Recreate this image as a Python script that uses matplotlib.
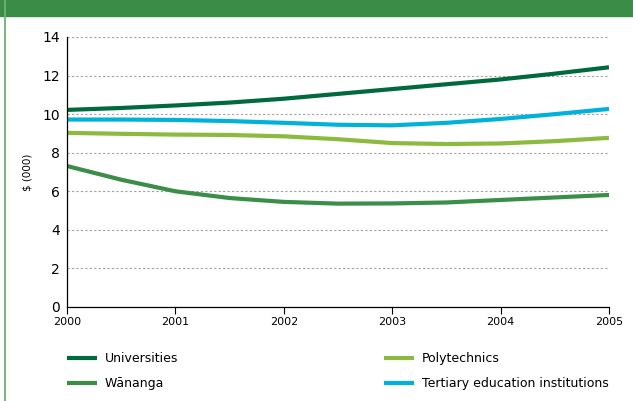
import matplotlib
matplotlib.use('Agg')
import matplotlib.pyplot as plt
from matplotlib.lines import Line2D
from matplotlib.patches import Rectangle

years = [2000, 2000.5, 2001, 2001.5, 2002, 2002.5, 2003, 2003.5, 2004, 2004.5, 2005]
universities = [10.22, 10.32, 10.45, 10.6, 10.8, 11.05, 11.3, 11.55, 11.8, 12.1, 12.43]
tertiary = [9.72, 9.72, 9.7, 9.64, 9.55, 9.45, 9.42, 9.55, 9.75, 10.0, 10.27]
polytechnics = [9.03, 8.98, 8.94, 8.92, 8.85, 8.7, 8.5, 8.45, 8.48, 8.6, 8.77]
wananga = [7.31, 6.6, 6.0, 5.65, 5.45, 5.36, 5.37, 5.42, 5.55, 5.68, 5.81]

xticks = [2000, 2001, 2002, 2003, 2004, 2005]
yticks = [0, 2, 4, 6, 8, 10, 12, 14]

c_uni = '#006a3e'
c_wan = '#3b8e48'
c_poly = '#8cba3f'
c_ter = '#00b2db'

W, H = 633, 401
fig = plt.figure(figsize=(W / 100, H / 100), dpi=100)

# header bar and left border
fig.patches.append(Rectangle((0, 1 - 16 / H), 1, 16 / H, transform=fig.transFigure,
                             color='#3a8c47', zorder=0))
fig.add_artist(Line2D([5 / W, 5 / W], [0, 1], transform=fig.transFigure,
                      color='#6db36f', lw=1.3))

ax = fig.add_axes([67 / W, 1 - 307 / H, (609 - 67) / W, (307 - 37) / H])

ax.plot(years, universities, color=c_uni, lw=3, solid_capstyle='butt', label='Universities')
ax.plot(years, tertiary, color=c_ter, lw=3, solid_capstyle='butt', label='Tertiary education institutions')
ax.plot(years, polytechnics, color=c_poly, lw=3, solid_capstyle='butt', label='Polytechnics')
ax.plot(years, wananga, color=c_wan, lw=3, solid_capstyle='butt', label='Wānanga')

ax.set_xlim(2000, 2005)
ax.set_ylim(0, 14)
ax.set_xticks(xticks)
ax.set_yticks(yticks)
ax.set_xticklabels([str(x) for x in xticks], fontsize=8)
ax.set_yticklabels([str(y) for y in yticks], fontsize=10)
ax.tick_params(axis='y', length=0, pad=5)
ax.tick_params(axis='x', length=5, width=0.8, direction='out', pad=2)
ax.grid(axis='y', color='#a0a0a0', ls=(0, (2, 2)), lw=0.8)
ax.set_axisbelow(True)
for s in ['top', 'right']:
    ax.spines[s].set_visible(False)
for s in ['left', 'bottom']:
    ax.spines[s].set_linewidth(0.9)
ax.set_ylabel('$ (000)', fontsize=7.5)
ax.yaxis.set_label_coords(-34 / (609 - 67), (307 - 172) / (307 - 37))

h = {l.get_label(): l for l in ax.get_lines()}
opts = dict(frameon=False, fontsize=9, handlelength=2.4, handletextpad=0.6,
            labelspacing=1.0, borderpad=0, borderaxespad=0, loc='upper left')
leg1 = fig.legend([h['Universities'], h['Wānanga']], ['Universities', 'Wānanga'],
                  bbox_to_anchor=(67 / W, 1 - 352 / H), **opts)
leg2 = fig.legend([h['Polytechnics'], h['Tertiary education institutions']],
                  ['Polytechnics', 'Tertiary education institutions'],
                  bbox_to_anchor=(384 / W, 1 - 352 / H), **opts)

fig.savefig('out.png', dpi=100)
